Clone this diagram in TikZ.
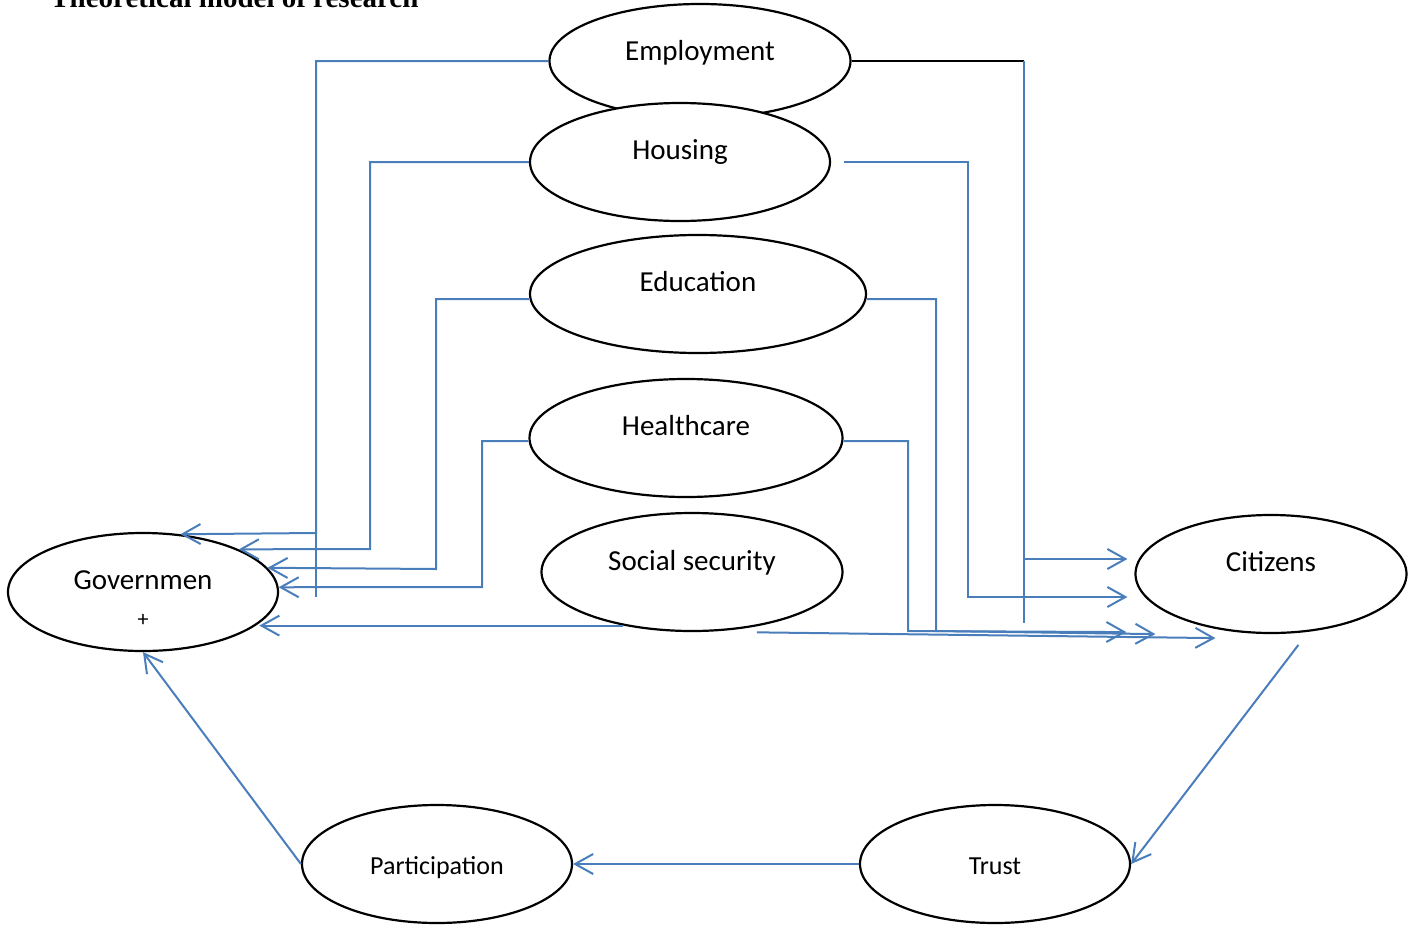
\documentclass[tikz,border=0pt]{standalone}
\usepackage{fontspec}
\setmainfont{Carlito}
\newfontfamily\headfont{Liberation Serif}
\usetikzlibrary{arrows.meta,shapes.geometric}
\definecolor{linkblue}{RGB}{74,126,187}

\tikzset{
  oval/.style 2 args={ellipse, draw=black, line width=1.1pt, fill=white,
    minimum width=#1, minimum height=#2, inner sep=0pt},
  txt/.style={font=\fontsize{14.5}{17}\selectfont, text height=0.65em, text depth=0pt, inner sep=0pt},
  txtsmall/.style={txt, font=\fontsize{13}{15}\selectfont},
  link/.style={draw=linkblue, line width=1pt},
  arr/.style={link, -{Straight Barb[length=9pt,width=10pt]}},
}

\begin{document}
\begin{tikzpicture}[x=0.5pt,y=-0.5pt]
\useasboundingbox (0,0) rectangle (1414,926);
% heading, cut by the top edge
\node[font=\headfont\bfseries\fontsize{14.5}{17}\selectfont, anchor=base west, inner sep=0pt]
  (heading) at (50,8) {Theoretical model of research};

% services (housing overlaps employment)
\node[oval={150.5pt}{57pt}, label={[txt,yshift=3.5pt]center:Employment}] (emp) at (700,61) {};
\node[oval={150pt}{59pt}, label={[txt,yshift=4.5pt]center:Housing}] (hous) at (680,162) {};
\node[oval={168pt}{59pt}, label={[txt,yshift=4.5pt]center:Education}] (edu) at (698,294) {};
\node[oval={156.5pt}{59pt}, label={[txt,yshift=4.5pt]center:Healthcare}] (health) at (686,438) {};
\node[oval={150.5pt}{59pt}, label={[txt,yshift=4pt]center:Social security}] (social) at (692,572) {};

% actors
\node[oval={135pt}{59pt}, label={[txt,yshift=4.5pt]center:Governmen},
  label={[txt,font=\fontsize{11}{13}\selectfont,yshift=-14pt]center:+}] (gov) at (143,592) {};
\node[oval={135.5pt}{59pt}, label={[txt,yshift=4.5pt]center:Citizens}] (cit) at (1271,574) {};
\node[oval={135pt}{59pt}, label={[txtsmall,yshift=-2pt]center:Participation}] (part) at (437,864) {};
\node[oval={135pt}{59pt}, label={[txtsmall,yshift=-2pt]center:Trust}] (trust) at (995,864) {};
\coordinate (citsw) at (cit.west |- cit.south);

% services to government
\draw[arr] (emp.west) -| (316,533) -- (gov.57);
\draw[link] (316,533) -- (316,597);
\draw[arr] (hous.west) -| (370,549) -- (gov.24);
\draw[arr] ([yshift=-2.5pt]edu.west) -| (436,569) -- (gov.11);
\draw[arr] ([yshift=-1.5pt]health.west) -| (482,587) -- (gov.2);
\draw[arr] (social.218) -- (gov.-15 |- social.218);

% services to citizens
\draw[line width=1pt] (emp.east) -- (1024,61);
\draw[link] (1024,61) -- (1024,623);
\draw[arr, shorten >=3.5pt] (1024,559) -- (cit.west |- 0,559);
\draw[arr, shorten >=3.5pt] ([xshift=6.5pt]hous.east) -| (968,597) -- (cit.west |- 0,597);
\draw[arr] ([yshift=-2.5pt]edu.east) -| (936,631) -- ([xshift=10.5pt]citsw);
\draw[arr] ([yshift=-1.5pt]health.east) -| (908,631) -- ([xshift=-4pt,yshift=1pt]citsw);
\draw[arr] ([yshift=-3pt]social.-40) -- ([xshift=40.5pt,yshift=-2pt]citsw);

% feedback loop
\draw[arr] ([yshift=-6pt]cit.-65) -- (trust.east);
\draw[arr] (trust.west) -- (part.east);
\draw[arr] (part.west) -- (gov.south);
\end{tikzpicture}
\end{document}
